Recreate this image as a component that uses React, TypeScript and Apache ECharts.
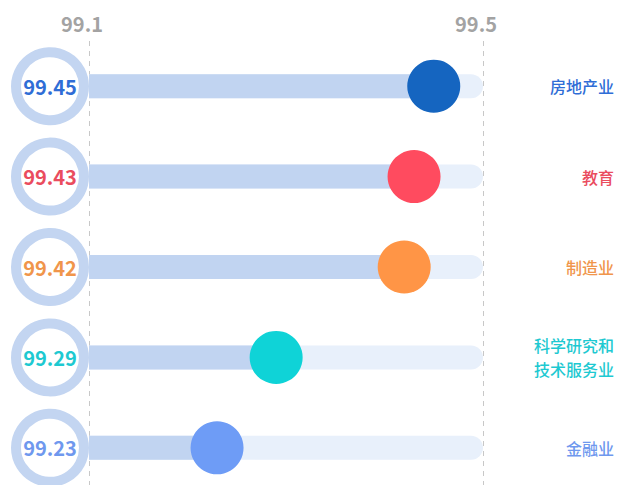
import React, { useEffect, useRef } from "react";
import * as echarts from "echarts";

const categories = ["房地产业", "教育", "制造业", "科学研究和\n技术服务业", "金融业"];
const values = [99.45, 99.43, 99.42, 99.29, 99.23];
const dotColors = ["#1565c0", "#ff4b5f", "#ff9546", "#0fd3d7", "#6e9cf6"];
const textColors = ["#2f6dd6", "#ea4c5e", "#f0954b", "#1ec9d1", "#6f98ee"];
const axisMin = 99.1;
const axisMax = 99.5;
const tickStep = 0.4;

export default function App() {
  const ref = useRef<HTMLDivElement>(null);
  useEffect(() => {
    if (!ref.current) return;
    const chart = echarts.init(ref.current, null, { renderer: "svg" });
    const font = "'Noto Sans CJK SC', 'Noto Sans', sans-serif";
    chart.setOption({
      animation: false,
      grid: {
        left: 89,
        right: 134,
        top: 41,
        height: 452,
        containLabel: false,
        outerBoundsMode: "none",
      },
      xAxis: {
        type: "value",
        position: "top",
        min: axisMin,
        max: axisMax,
        interval: tickStep,
        axisLine: { show: false },
        axisTick: { show: false },
        axisLabel: {
          margin: 8,
          fontSize: 20,
          fontWeight: "bold",
          color: "#a3a3a3",
          fontFamily: font,
          padding: [0, 14, 0, 0],
          formatter: (v: number) => v.toFixed(1),
        },
        splitLine: { show: true, lineStyle: { type: [5, 5], color: "#c8c8c8", width: 1 } },
      },
      yAxis: {
        type: "category",
        data: categories,
        inverse: true,
        position: "right",
        axisLine: { show: false },
        axisTick: { show: false },
        splitLine: { show: false },
        axisLabel: {
          margin: 131,
          align: "right",
          fontSize: 16,
          lineHeight: 24,
          fontFamily: font,
          fontWeight: 500,
          color: (_v: string, i: number) => textColors[i],
        },
      },
      series: [
        {
          type: "bar",
          data: categories.map(() => axisMax),
          barWidth: 24,
          barGap: "-100%",
          silent: true,
          itemStyle: { color: "#e8f0fb", borderRadius: [0, 12, 12, 0] },
          z: 1,
        },
        {
          type: "bar",
          data: values,
          barWidth: 24,
          barGap: "-100%",
          silent: true,
          itemStyle: { color: "#c1d4f1" },
          z: 2,
        },
        {
          type: "scatter",
          data: values.map((v, i) => ({
            value: [v, i],
            itemStyle: { color: dotColors[i], opacity: 1 },
          })),
          symbol: "circle",
          symbolSize: 53,
          z: 5,
          silent: true,
        },
        {
          type: "scatter",
          clip: false,
          data: values.map((v, i) => ({
            value: [axisMin, i],
            label: {
              show: true,
              position: "inside",
              formatter: () => v.toFixed(2),
              color: textColors[i],
              fontSize: 20,
              fontWeight: "bold",
              fontFamily: font,
            },
          })),
          symbol: "circle",
          symbolSize: 68,
          symbolOffset: [-39, 0],
          itemStyle: { color: "#ffffff", borderColor: "#c3d5f1", borderWidth: 10, opacity: 1 },
          z: 6,
          silent: true,
        },
      ],
    });
    return () => chart.dispose();
  }, []);
  return (
    <div
      ref={ref}
      style={{ position: "fixed", left: 0, top: 0, width: 617, height: 485, background: "#fff" }}
    />
  );
}
